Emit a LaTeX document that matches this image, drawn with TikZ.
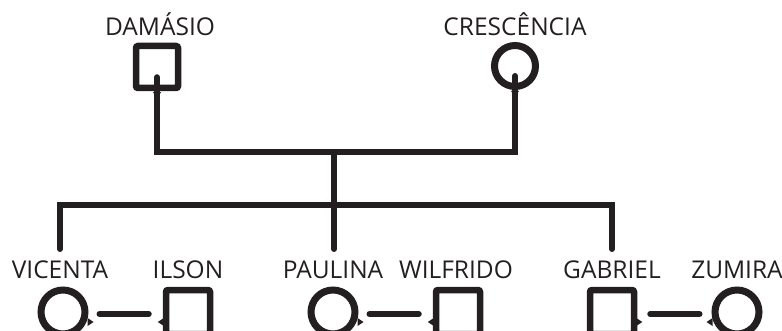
\documentclass[tikz,border=0pt]{standalone}
\usepackage{fontspec}
\setmainfont{Open Sans}
\definecolor{ink}{HTML}{231F20}
\begin{document}
\begin{tikzpicture}[x=1pt,y=-1pt,
  male/.style={draw=ink,line width=6.5pt,rounded corners=2pt,minimum size=42pt,inner sep=0pt,fill=white},
  female/.style={draw=ink,line width=7pt,circle,minimum size=41pt,inner sep=0pt,fill=white},
  lbl/.style={text=ink,font=\fontsize{24.5}{24.5}\selectfont,inner sep=0pt,anchor=base},
  link/.style={draw=ink,line width=6pt,line cap=round},
  tip/.style={fill=ink}
]
\useasboundingbox (0,0) rectangle (782,331);
\clip (0,0) rectangle (782,331);
% parents
\node[male] (dam) at (157,67) {};
\node[female] (cre) at (515,66) {};
\node[lbl] (tdam) at (160,36) {DAMÁSIO};
\node[lbl] (tcre) at (515,36) {CRESCÊNCIA};
% children row
\node[female,minimum size=44pt] (vic) at (63,312) {};
\node[male,minimum size=44pt] (ils) at (188,312) {};
\node[female,minimum size=44pt] (pau) at (333,312) {};
\node[male,minimum size=44pt] (wil) at (458,312) {};
\node[male,minimum size=44pt] (gab) at (612,312) {};
\node[female,minimum size=44pt] (zum) at (737,312) {};
\node[lbl] (tvic) at (60,279) {VICENTA};
\node[lbl] (tils) at (188,279) {ILSON};
\node[lbl] (tpau) at (333,279) {PAULINA};
\node[lbl] (twil) at (456,279) {WILFRIDO};
\node[lbl] (tgab) at (612,279) {GABRIEL};
\node[lbl] (tzum) at (737,279) {ZUMIRA};
% junction coordinates
\coordinate (pl) at (157,152);
\coordinate (pr) at (515,152);
\coordinate (pm) at (334,152);
\coordinate (sm) at (334,205);
\coordinate (sl) at (60,205);
\coordinate (sr) at (612,205);
\coordinate (dvic) at (60,249);
\coordinate (dpau) at (334,249);
\coordinate (dgab) at (612,249);
% parent connectors
\draw[link] ([yshift=14pt]dam.south) -- (pl) -- (pr) -- ([yshift=14pt]cre.south);
\draw[link] (pm) -- (sm);
\draw[link] (dvic) -- (sl) -- (sr) -- (dgab);
\draw[link] (sm) -- (dpau);
% couples
\draw[link] ([xshift=11pt,yshift=-2pt]vic.east) -- ([xshift=-14pt,yshift=-2pt]ils.west);
\draw[link] ([xshift=11pt,yshift=-2pt]pau.east) -- ([xshift=-14pt,yshift=-2pt]wil.west);
\draw[link] ([xshift=13pt,yshift=-2pt]gab.east) -- ([xshift=-12pt,yshift=-2pt]zum.west);
% small pointer tips
\fill[tip] ([xshift=-4pt,yshift=-1pt]dam.south) -- ++(8,0) -- ++(-4,6) -- cycle;
\fill[tip] ([xshift=-4pt,yshift=-1pt]cre.south) -- ++(8,0) -- ++(-4,6) -- cycle;
\fill[tip] ([xshift=-1pt,yshift=-6pt]vic.east) -- ++(0,8) -- ++(6,-4) -- cycle;
\fill[tip] ([xshift=1pt,yshift=-6pt]ils.west) -- ++(0,8) -- ++(-6,-4) -- cycle;
\fill[tip] ([xshift=-1pt,yshift=-6pt]pau.east) -- ++(0,8) -- ++(6,-4) -- cycle;
\fill[tip] ([xshift=1pt,yshift=-6pt]wil.west) -- ++(0,8) -- ++(-6,-4) -- cycle;
\fill[tip] ([xshift=-1pt,yshift=-6pt]gab.east) -- ++(0,8) -- ++(6,-4) -- cycle;
\fill[tip] ([xshift=1pt,yshift=-6pt]zum.west) -- ++(0,8) -- ++(-6,-4) -- cycle;
\end{tikzpicture}
\end{document}
